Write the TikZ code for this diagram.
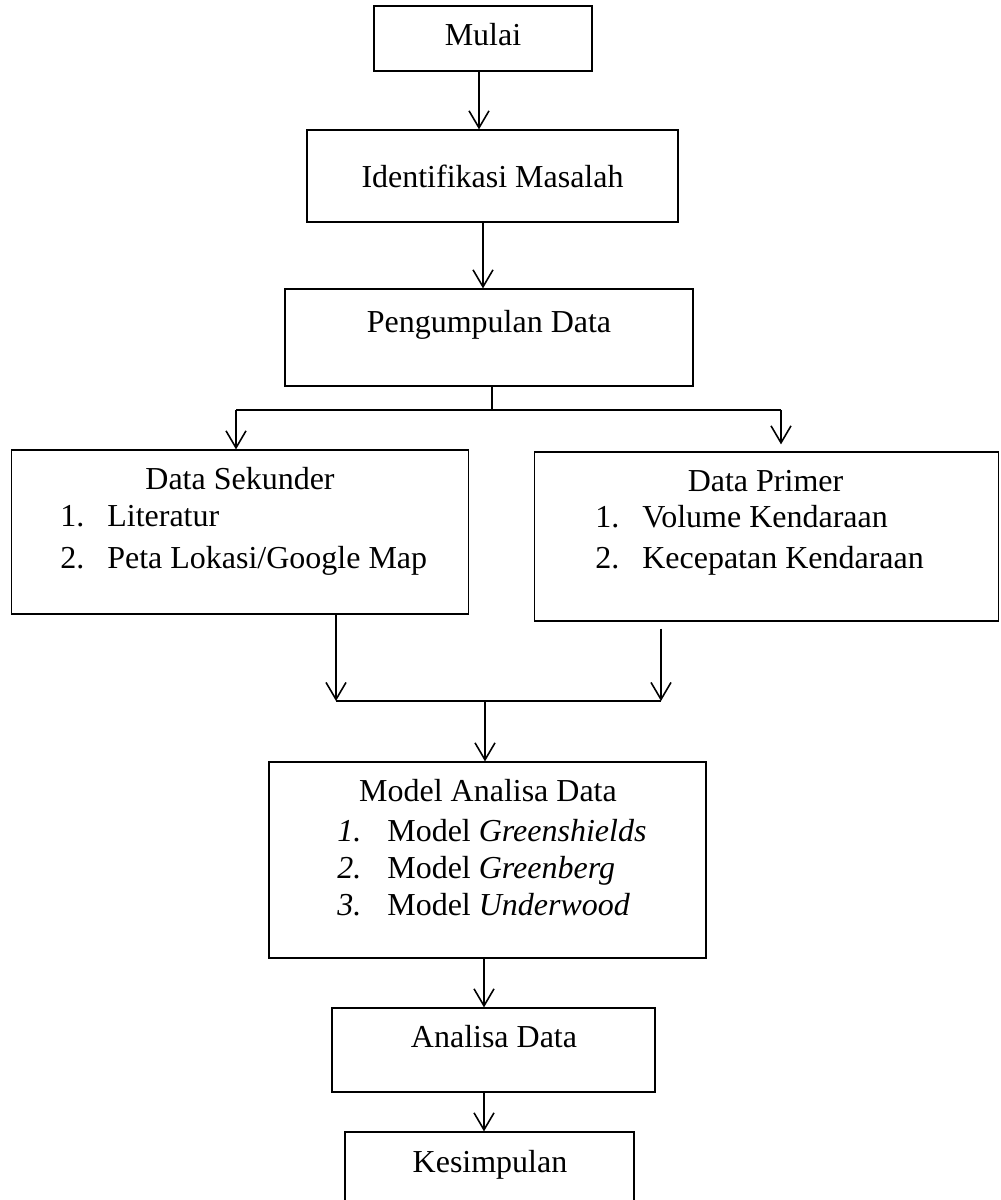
\documentclass[tikz,border=0pt]{standalone}
\usepackage{fontspec}
\setmainfont{Liberation Serif}
\usepackage{tikz}
\usetikzlibrary{positioning,calc,arrows.meta}

\tikzset{
    box/.style={draw, line width=0.7pt, inner sep=0pt},
    txt/.style={inner sep=0pt, font=\fontsize{18.2}{22}\selectfont},
    arr/.style={line width=0.9pt, -{Straight Barb[length=3.4mm,width=4mm]}},
    bar/.style={line width=1.6pt}
}

\begin{document}
\begin{tikzpicture}
    \useasboundingbox (0,0) rectangle (20,-24);

    % Boxes
    \node[box, minimum width=4.36cm, minimum height=1.30cm] (mulai) at (9.66,-0.77) {};
    \node[box, minimum width=7.42cm, minimum height=1.84cm] (ident) at (9.85,-3.52) {};
    \node[box, minimum width=8.16cm, minimum height=1.94cm] (kumpul) at (9.78,-6.75) {};
    \node[box, minimum width=9.13cm, minimum height=3.28cm] (sekunder) at (4.80,-10.64) {};
    \node[box, minimum width=9.29cm, minimum height=3.38cm] (primer) at (15.33,-10.73) {};
    \node[box, minimum width=8.74cm, minimum height=3.92cm] (model) at (9.75,-17.20) {};
    \node[box, minimum width=6.46cm, minimum height=1.68cm] (analisa) at (9.87,-21.00) {};
    \node[box, minimum width=5.78cm, minimum height=1.66cm] (simpul) at (9.79,-23.47) {};

    % Texts
    \node[txt, anchor=base] (tmulai) at (9.66,-0.92) {Mulai};
    \node[txt, anchor=base] (tident) at (9.85,-3.76) {Identifikasi Masalah};
    \node[txt, anchor=base] (tkumpul) at (9.78,-6.66) {Pengumpulan Data};

    \node[txt, anchor=base] (tsekunder) at (4.80,-9.78) {Data Sekunder};
    \node[txt, anchor=base west] (nsek1) at (1.20,-10.52) {1.};
    \node[txt, anchor=base west] (sek1) at (2.14,-10.52) {Literatur};
    \node[txt, anchor=base west] (nsek2) at (1.20,-11.36) {2.};
    \node[txt, anchor=base west] (sek2) at (2.14,-11.36) {Peta Lokasi/Google Map};

    \node[txt, anchor=base] (tprimer) at (15.31,-9.82) {Data Primer};
    \node[txt, anchor=base west] (nprim1) at (11.90,-10.54) {1.};
    \node[txt, anchor=base west] (prim1) at (12.84,-10.54) {Volume Kendaraan};
    \node[txt, anchor=base west] (nprim2) at (11.90,-11.36) {2.};
    \node[txt, anchor=base west] (prim2) at (12.84,-11.36) {Kecepatan Kendaraan};

    \node[txt, anchor=base] (tmodel) at (9.76,-16.02) {Model Analisa Data};
    \node[txt, anchor=base west] (nmod1) at (6.74,-16.82) {\textit{1.}};
    \node[txt, anchor=base west] (mod1) at (7.74,-16.82) {Model \textit{Greenshields}};
    \node[txt, anchor=base west] (nmod2) at (6.74,-17.56) {\textit{2.}};
    \node[txt, anchor=base west] (mod2) at (7.74,-17.56) {Model \textit{Greenberg}};
    \node[txt, anchor=base west] (nmod3) at (6.74,-18.30) {\textit{3.}};
    \node[txt, anchor=base west] (mod3) at (7.74,-18.30) {Model \textit{Underwood}};

    \node[txt, anchor=base] (tanalisa) at (9.88,-20.94) {Analisa Data};
    \node[txt, anchor=base] (tsimpul) at (9.80,-23.44) {Kesimpulan};

    % Arrows
    \draw[arr] ([xshift=-0.08cm]mulai.south) -- ([xshift=-0.08cm]mulai.south |- ident.north);
    \draw[arr] ([xshift=-0.19cm]ident.south) -- ([xshift=-0.19cm]ident.south |- kumpul.north);

    % Split
    \coordinate (split) at (9.84,-8.20);
    \coordinate (splitL) at (4.72,-8.20);
    \coordinate (splitR) at (15.62,-8.20);
    \draw[bar] ([xshift=0.06cm]kumpul.south) -- (split);
    \draw[bar] (splitL) -- (splitR);
    \draw[arr] (splitL) -- (splitL |- sekunder.north);
    \draw[arr] (splitR) -- ([yshift=0.14cm]splitR |- primer.north);

    % Join
    \coordinate (joinL) at (6.72,-14.02);
    \coordinate (joinR) at (13.22,-14.02);
    \coordinate (join) at (9.70,-14.02);
    \draw[arr] (sekunder.south -| joinL) -- (joinL);
    \draw[arr] ([yshift=-0.14cm]primer.south -| joinR) -- (joinR);
    \draw[bar] (joinL) -- (joinR);
    \draw[arr] (join) -- (join |- model.north);

    \draw[arr] ([xshift=-0.02cm]model.south -| join) -- ([xshift=-0.02cm]join |- analisa.north);
    \draw[arr] ([xshift=-0.02cm]analisa.south -| join) -- ([xshift=-0.02cm]join |- simpul.north);
\end{tikzpicture}
\end{document}
